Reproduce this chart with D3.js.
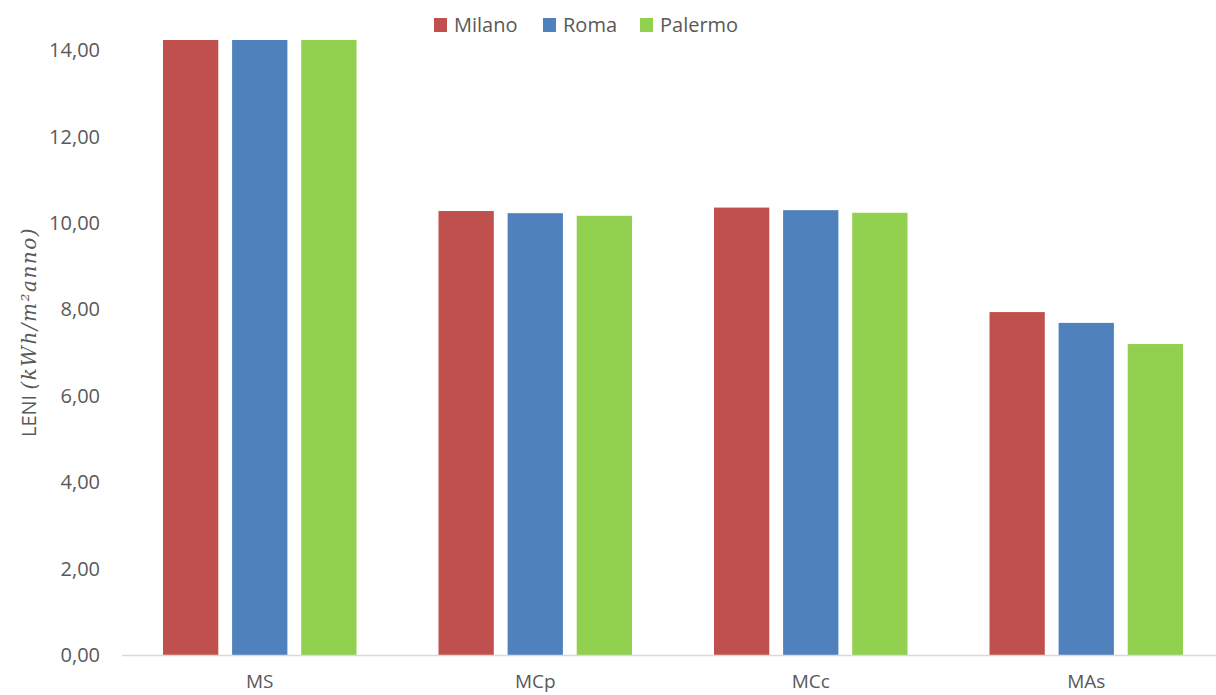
<!DOCTYPE html>
<html><head><meta charset="utf-8">
<script src="https://cdn.jsdelivr.net/npm/d3@7"></script>
<style>body{margin:0;background:#fff}svg{display:block}</style>
</head><body>
<svg id="c" width="1216" height="695"></svg>
<script>
const categories = ["MS", "MCp", "MCc", "MAs"];
const seriesNames = ["Milano", "Roma", "Palermo"];
const milano = [14.6, 10.28, 10.36, 7.94];
const roma = [14.6, 10.23, 10.30, 7.69];
const palermo = [14.6, 10.17, 10.24, 7.20];
const yTicks = [0, 2, 4, 6, 8, 10, 12, 14];
const colors = ["#C0504D", "#4F81BD", "#92D050"];
const values = [milano, roma, palermo];

const svg = d3.select("#c");
const font = "'Open Sans', sans-serif";
const plot = {left: 122, right: 1224, top: 40, bottom: 655};

const y = d3.scaleLinear().domain([0, 14.24]).range([plot.bottom, plot.top]).clamp(true);
const x0 = d3.scaleBand().domain(categories).range([plot.left, plot.right]).padding(0);
const x1 = d3.scaleBand().domain(seriesNames).range([41, x0.bandwidth() - 41]).paddingInner(0.2).paddingOuter(0);

const g = svg.append("g");
categories.forEach((c, i) => {
  seriesNames.forEach((s, j) => {
    const v = values[j][i];
    g.append("rect")
      .attr("x", x0(c) + x1(s))
      .attr("y", y(v))
      .attr("width", x1.bandwidth())
      .attr("height", y(0) - y(v))
      .attr("fill", colors[j]);
  });
});

// x axis line
svg.append("line").attr("x1", plot.left).attr("x2", plot.right)
  .attr("y1", plot.bottom + 0.5).attr("y2", plot.bottom + 0.5)
  .attr("stroke", "#D9D9D9").attr("stroke-width", 1.5);

// y tick labels
const yScaleTicks = d3.scaleLinear().domain([0, 14]).range([y(0), y(14)]);
svg.append("g").selectAll("text").data(yTicks).join("text")
  .attr("x", 100).attr("y", d => yScaleTicks(d)).attr("dy", "0.35em")
  .attr("text-anchor", "end").attr("font-family", font).attr("font-size", 20)
  .attr("fill", "#595959").text(d => d3.format(".2f")(d).replace(".", ","));

// x labels
svg.append("g").selectAll("text").data(categories).join("text")
  .attr("x", d => x0(d) + x0.bandwidth() / 2).attr("y", 688)
  .attr("text-anchor", "middle").attr("font-family", font).attr("font-size", 19)
  .attr("fill", "#595959").text(d => d);

// y axis title
const t = svg.append("text").attr("transform", "translate(36,332) rotate(-90)")
  .attr("text-anchor", "middle").attr("fill", "#595959");
t.append("tspan").attr("font-family", font).attr("font-size", 20).text("LENI ");
t.append("tspan").attr("font-family", "'DejaVu Serif', serif").attr("font-style", "italic")
  .attr("font-size", 20).attr("letter-spacing", 1.5).text("(kWh/m²anno)");

// legend
const legendX = [434, 543, 640];
const lg = svg.append("g");
seriesNames.forEach((s, j) => {
  lg.append("rect").attr("x", legendX[j]).attr("y", 18).attr("width", 13).attr("height", 14).attr("fill", colors[j]);
  lg.append("text").attr("x", legendX[j] + 20).attr("y", 25).attr("dy", "0.35em")
    .attr("font-family", font).attr("font-size", 20).attr("fill", "#595959").text(s);
});
</script>
</body></html>
